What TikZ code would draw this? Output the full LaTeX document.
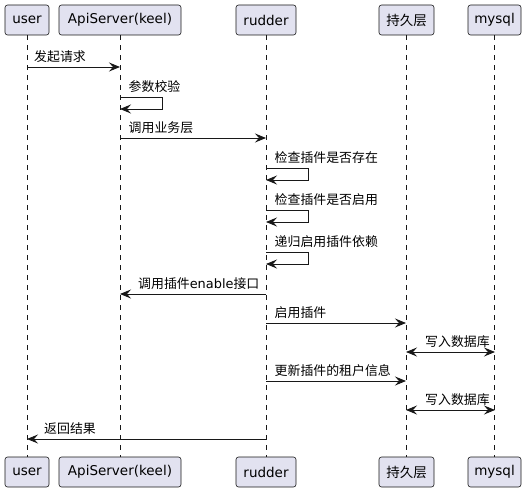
\documentclass[tikz,border=0pt]{standalone}
\usepackage{fontspec}
\setmainfont{DejaVu Sans}
\newfontfamily\cjk{Noto Sans CJK SC}
\usetikzlibrary{arrows.meta}
\definecolor{pfill}{HTML}{E2E2F0}
\definecolor{pline}{HTML}{181818}
\begin{document}
\begin{tikzpicture}[x=1pt,y=-1pt,
  part/.style={draw=pline, fill=pfill, rounded corners=2.5pt, line width=0.6pt,
    minimum height=30pt, inner sep=0pt, font=\fontsize{13.5}{15}\selectfont, text=black},
  life/.style={draw=pline, dash pattern=on 5pt off 5pt, line width=0.5pt},
  msg/.style={draw=pline, line width=0.9pt, -{Stealth[length=11pt,width=9pt,inset=4pt]}},
  bimsg/.style={draw=pline, line width=0.9pt, {Stealth[length=11pt,width=9pt,inset=4pt]}-{Stealth[length=11pt,width=9pt,inset=4pt]}},
  lbl/.style={anchor=base west, inner sep=0pt, font=\cjk\fontsize{12.9}{14}\selectfont, text=black}
]
\useasboundingbox (0,0) rectangle (529,492);

% participants top
\node[part, minimum width=44pt] (ut) at (27,20) {user};
\node[part, minimum width=122pt] (at) at (120,20) {ApiServer(keel)};
\node[part, minimum width=60pt] (rt) at (266,20) {rudder};
\node[part, minimum width=55pt] (pt) at (406.5,20) {\cjk 持久层};
\node[part, minimum width=53pt] (mt) at (494.5,20) {mysql};
% participants bottom
\node[part, minimum width=44pt] (ub) at (27,472) {user};
\node[part, minimum width=122pt] (ab) at (120,472) {ApiServer(keel)};
\node[part, minimum width=60pt] (rb) at (266,472) {rudder};
\node[part, minimum width=55pt] (pb) at (406.5,472) {\cjk 持久层};
\node[part, minimum width=53pt] (mb) at (494.5,472) {mysql};

% lifelines
\draw[life] (ut.south) -- (ub.north);
\draw[life] (at.south) -- (ab.north);
\draw[life] (rt.south) -- (rb.north);
\draw[life] (pt.south) -- (pb.north);
\draw[life] (mt.south) -- (mb.north);

% message points
\coordinate (u1) at (27,67);   \coordinate (a1) at (120,67);
\coordinate (a2) at (120,97);  \coordinate (a2b) at (120,109);
\coordinate (a3) at (120,138); \coordinate (r3) at (266,138);
\coordinate (r4) at (266,168); \coordinate (r4b) at (266,180);
\coordinate (r5) at (266,210); \coordinate (r5b) at (266,222);
\coordinate (r6) at (266,252); \coordinate (r6b) at (266,264);
\coordinate (r7) at (266,294); \coordinate (a7) at (120,294);
\coordinate (r8) at (266,323); \coordinate (p8) at (406,323);
\coordinate (p9) at (406,352); \coordinate (m9) at (495,352);
\coordinate (r10) at (266,381); \coordinate (p10) at (406,381);
\coordinate (p11) at (406,410); \coordinate (m11) at (495,410);
\coordinate (r12) at (266,439); \coordinate (u12) at (27,439);

% messages
\draw[msg] (u1) -- (a1);
\node[lbl] (l1) at ([xshift=7pt,yshift=5.5pt]u1) {发起请求};

\draw[msg] (a2) -- ([xshift=42pt]a2) |- (a2b);
\node[lbl] (l2) at ([xshift=8.5pt,yshift=5.5pt]a2) {参数校验};

\draw[msg] (a3) -- (r3);
\node[lbl] (l3) at ([xshift=8.5pt,yshift=5.5pt]a3) {调用业务层};

\draw[msg] (r4) -- ([xshift=42pt]r4) |- (r4b);
\node[lbl] (l4) at ([xshift=8.5pt,yshift=5.5pt]r4) {检查插件是否存在};

\draw[msg] (r5) -- ([xshift=42pt]r5) |- (r5b);
\node[lbl] (l5) at ([xshift=8.5pt,yshift=5.5pt]r5) {检查插件是否启用};

\draw[msg] (r6) -- ([xshift=42pt]r6) |- (r6b);
\node[lbl] (l6) at ([xshift=8.5pt,yshift=5.5pt]r6) {递归启用插件依赖};

\draw[msg] (r7) -- (a7);
\node[lbl] (l7) at ([xshift=18pt,yshift=5.5pt]a7) {调用插件{\fontspec{DejaVu Sans}\fontsize{12.9}{14}\selectfont enable}接口};

\draw[msg] (r8) -- (p8);
\node[lbl] (l8) at ([xshift=8.5pt,yshift=5.5pt]r8) {启用插件};

\draw[bimsg] (p9) -- (m9);
\node[lbl] (l9) at ([xshift=19pt,yshift=5.5pt]p9) {写入数据库};

\draw[msg] (r10) -- (p10);
\node[lbl] (l10) at ([xshift=8.5pt,yshift=5.5pt]r10) {更新插件的租户信息};

\draw[bimsg] (p11) -- (m11);
\node[lbl] (l11) at ([xshift=19pt,yshift=5.5pt]p11) {写入数据库};

\draw[msg] (r12) -- (u12);
\node[lbl] (l12) at ([xshift=17pt,yshift=5.5pt]u12) {返回结果};
\end{tikzpicture}
\end{document}
